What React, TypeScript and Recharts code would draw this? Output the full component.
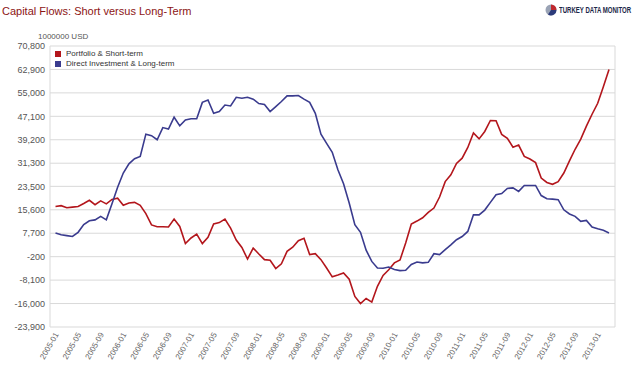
import { LineChart, Line, XAxis, YAxis, CartesianGrid } from "recharts"

const months = [
  "2005-01", "2005-02", "2005-03", "2005-04", "2005-05", "2005-06", "2005-07", "2005-08", "2005-09", "2005-10", "2005-11", "2005-12",
  "2006-01", "2006-02", "2006-03", "2006-04", "2006-05", "2006-06", "2006-07", "2006-08", "2006-09", "2006-10", "2006-11", "2006-12",
  "2007-01", "2007-02", "2007-03", "2007-04", "2007-05", "2007-06", "2007-07", "2007-08", "2007-09", "2007-10", "2007-11", "2007-12",
  "2008-01", "2008-02", "2008-03", "2008-04", "2008-05", "2008-06", "2008-07", "2008-08", "2008-09", "2008-10", "2008-11", "2008-12",
  "2009-01", "2009-02", "2009-03", "2009-04", "2009-05", "2009-06", "2009-07", "2009-08", "2009-09", "2009-10", "2009-11", "2009-12",
  "2010-01", "2010-02", "2010-03", "2010-04", "2010-05", "2010-06", "2010-07", "2010-08", "2010-09", "2010-10", "2010-11", "2010-12",
  "2011-01", "2011-02", "2011-03", "2011-04", "2011-05", "2011-06", "2011-07", "2011-08", "2011-09", "2011-10", "2011-11", "2011-12",
  "2012-01", "2012-02", "2012-03", "2012-04", "2012-05", "2012-06", "2012-07", "2012-08", "2012-09", "2012-10", "2012-11", "2012-12",
  "2013-01", "2013-02", "2013-03",
]

// Portfolio & Short-term, million USD
const portfolio = [
  16700, 17000, 16300, 16500, 16700, 17700, 18800, 17300, 18600, 17600,
  19100, 19500, 17100, 17900, 18100, 17100, 14300, 10500, 9900, 9900,
  9800, 12500, 10000, 4200, 6100, 7400, 4200, 6300, 10800, 11300,
  12500, 9400, 5400, 2900, -1000, 2700, 700, -1200, -1400, -4200,
  -2600, 1600, 3000, 5200, 6000, 500, 800, -1200, -4000, -7000,
  -6400, -5700, -7800, -13600, -16000, -14300, -15500, -10200, -6500, -4600,
  -2300, -1300, 4400, 10800, 11800, 12900, 14700, 16200, 19900, 25100,
  27400, 31200, 33000, 36600, 41500, 39500, 42000, 45700, 45600, 41000,
  39700, 36700, 37400, 33600, 32700, 31500, 26300, 24800, 24200, 25100,
  28000, 32100, 36000, 39400, 43800, 47800, 51500, 57100, 62900,
]

// Direct Investment & Long-term, million USD
const direct = [
  7800, 7200, 6900, 6600, 8000, 10600, 11900, 12200, 13400, 12200,
  17600, 23200, 28000, 31100, 32800, 33600, 41100, 40600, 39200, 43300,
  42800, 46800, 43900, 45900, 46300, 46300, 51800, 52600, 48100, 48700,
  50900, 50600, 53500, 53200, 53500, 52900, 51400, 51100, 48700, 50400,
  52100, 54000, 54000, 54100, 52900, 51800, 48100, 41100, 38000, 35000,
  29100, 24400, 17900, 10600, 8000, 2000, -1800, -4000, -4100, -3700,
  -4500, -4900, -4800, -2800, -2000, -2300, -2100, 800, 500, 2200,
  3800, 5500, 6600, 8300, 13900, 13900, 15500, 18100, 20700, 21100,
  22800, 23000, 21800, 23800, 23800, 23800, 20400, 19300, 19200, 19000,
  15600, 14200, 13400, 11700, 12000, 9800, 9200, 8700, 7800,
]

const yTicks = [-23900, -16000, -8100, -200, 7700, 15600, 23500, 31300, 39200, 47100, 55000, 62900, 70800]

const data = months.map((month, i) => ({ month, portfolio: portfolio[i], direct: direct[i] }))

const RED = "#b3161c"
const BLUE = "#3a3b8e"
const GRID = "#d9d9d9"
const FONT = "Arial, 'Liberation Sans', sans-serif"

function XTick({ x, y, payload }: any) {
  const ax = x + 3.5
  const ay = y + 7.5
  return (
    <text x={ax} y={ay} transform={`rotate(-60 ${ax} ${ay})`} textAnchor="end" fontSize={8} fill="#666" fontFamily={FONT}>
      {payload.value}
    </text>
  )
}

export default function App() {
  return (
    <div style={{ position: "absolute", left: 0, top: 0, width: 644, height: 374, background: "#fff", fontFamily: FONT }}>
      <div style={{ position: "absolute", left: 2, top: 5, fontSize: 11, color: "#8c1414", whiteSpace: "nowrap" }}>
        Capital Flows: Short versus Long-Term
      </div>
      {/* logo */}
      <svg style={{ position: "absolute", left: 544, top: 3 }} width={14} height={14}>
        <circle cx={7} cy={7} r={5.5} fill="#9aa3b5" />
        <path d="M7 7 L7 1.5 A5.5 5.5 0 0 1 12.5 7 Z" fill="#c0282d" />
        <path d="M7 7 L12.5 7 A5.5 5.5 0 0 1 4 11.6 Z" fill="#2b3a7a" />
      </svg>
      <div
        style={{
          position: "absolute",
          left: 559,
          top: 5,
          fontSize: 8.5,
          lineHeight: "10px",
          fontWeight: "bold",
          color: "#1b2748",
          whiteSpace: "nowrap",
          transform: "scaleX(0.71)",
          transformOrigin: "0 0",
        }}
      >
        TURKEY DATA MONITOR
      </div>
      <div style={{ position: "absolute", left: 38, top: 32, fontSize: 8, color: "#555", whiteSpace: "nowrap" }}>1000000 USD</div>

      <LineChart width={644} height={374} data={data} margin={{ top: 46, right: 28, bottom: 1, left: 0 }}>
        <CartesianGrid yAxisId="l" vertical={false} stroke={GRID} />
        <XAxis
          dataKey="month"
          interval={3}
          padding={{ left: 5.5, right: 6 }}
          axisLine={false}
          tickLine={false}
          tickSize={0}
          tickMargin={0}
          height={46}
          tick={<XTick />}
        />
        <YAxis
          yAxisId="l"
          domain={[-23900, 70800]}
          ticks={yTicks}
          width={50}
          axisLine={{ stroke: GRID }}
          tickLine={false}
          tickSize={0}
          tickMargin={5}
          tick={{ fontSize: 9, fill: "#555", fontFamily: FONT }}
          tickFormatter={(v: number) => v.toLocaleString("en-US")}
        />
        <YAxis
          yAxisId="r"
          orientation="right"
          domain={[-23900, 70800]}
          ticks={yTicks}
          width={1}
          tick={false}
          tickLine={false}
          axisLine={{ stroke: GRID }}
        />
        <Line yAxisId="l" type="linear" dataKey="portfolio" stroke={RED} strokeWidth={1.6} dot={false} isAnimationActive={false} />
        <Line yAxisId="l" type="linear" dataKey="direct" stroke={BLUE} strokeWidth={1.6} dot={false} isAnimationActive={false} />
      </LineChart>

      <div style={{ position: "absolute", left: 55, top: 49, fontSize: 8, color: "#333", lineHeight: "10px" }}>
        <div style={{ display: "flex", alignItems: "center" }}>
          <span style={{ width: 6, height: 6, background: RED, marginRight: 5, display: "inline-block" }} />
          Portfolio &amp; Short-term
        </div>
        <div style={{ display: "flex", alignItems: "center" }}>
          <span style={{ width: 6, height: 6, background: BLUE, marginRight: 5, display: "inline-block" }} />
          Direct Investment &amp; Long-term
        </div>
      </div>
    </div>
  )
}
